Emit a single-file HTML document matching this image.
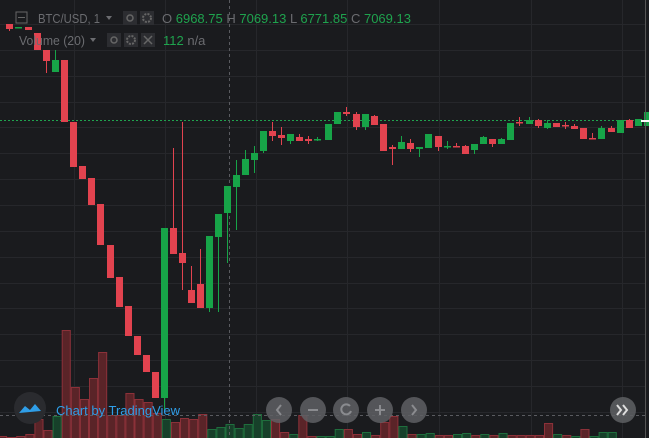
<!DOCTYPE html>
<html><head><meta charset="utf-8"><style>
html,body{margin:0;padding:0;background:#1a1b1e;overflow:hidden}
svg{display:block}
text{font-family:"Liberation Sans",sans-serif}
</style></head><body>
<svg id="s" width="649" height="438" xmlns="http://www.w3.org/2000/svg">
<rect width="649" height="438" fill="#1a1b1e"/>
<g id="grid" stroke="#26272b" stroke-width="1"></g>
<g id="vol"></g>
<line x1="0" y1="120.5" x2="645" y2="120.5" stroke="#1fa34e" stroke-dasharray="2,2"/>
<line x1="229.5" y1="0" x2="229.5" y2="438" stroke="#5a5b60" stroke-dasharray="3,3"/>
<line x1="0" y1="415.5" x2="645" y2="415.5" stroke="#5a5b60" stroke-dasharray="3,3"/>
<g id="cdl"></g>
<line x1="645.5" y1="0" x2="645.5" y2="438" stroke="#555"/>
<rect x="641" y="120" width="8" height="2" fill="#fff"/>
<!-- legend -->
<rect x="16" y="12" width="11" height="11" fill="none" stroke="#666" stroke-width="1"/>
<line x1="18" y1="17.5" x2="25" y2="17.5" stroke="#666"/>
<text x="38" y="23" font-size="13" fill="#6b6c70" textLength="62" lengthAdjust="spacingAndGlyphs">BTC/USD, 1</text>
<path d="M106 16 l6 0 l-3 4z" fill="#6b6c70"/>
<rect x="123" y="11" width="14" height="14" fill="#2c2d31"/><circle cx="130" cy="18" r="3" fill="none" stroke="#666" stroke-width="1.5"/>
<rect x="140" y="11" width="14" height="14" fill="#2c2d31"/><circle cx="147" cy="18" r="4" fill="none" stroke="#666" stroke-width="2" stroke-dasharray="2,1.2"/>
<text x="162" y="23" font-size="13" fill="#6b6c70">O <tspan fill="#1fa34e">6968.75</tspan> H <tspan fill="#1fa34e">7069.13</tspan> L <tspan fill="#1fa34e">6771.85</tspan> C <tspan fill="#1fa34e">7069.13</tspan></text>
<text x="19" y="45" font-size="13" fill="#6b6c70" textLength="66" lengthAdjust="spacingAndGlyphs">Volume (20)</text>
<path d="M90 38 l6 0 l-3 4z" fill="#6b6c70"/>
<rect x="107" y="33" width="14" height="14" fill="#2c2d31"/><circle cx="114" cy="40" r="3" fill="none" stroke="#666" stroke-width="1.5"/>
<rect x="124" y="33" width="14" height="14" fill="#2c2d31"/><circle cx="131" cy="40" r="4" fill="none" stroke="#666" stroke-width="2" stroke-dasharray="2,1.2"/>
<rect x="141" y="33" width="14" height="14" fill="#2c2d31"/><path d="M144 36 l8 8 M152 36 l-8 8" stroke="#666" stroke-width="1.5"/>
<text x="163" y="45" font-size="13" fill="#1fa34e">112 <tspan fill="#6b6c70">n/a</tspan></text>
<!-- watermark -->
<circle cx="30" cy="408" r="16" fill="#2a2b2f"/>
<path d="M19 413 l6-7 l5 4 l5-6 l6 7 z" fill="#2f9ee8"/>
<text x="56" y="415" font-size="13" fill="#2f9ee8">Chart by TradingView</text>
<g fill="#5f6064" opacity="0.85">
<circle cx="279" cy="410" r="13"/><circle cx="313" cy="410" r="13"/><circle cx="346" cy="410" r="13"/><circle cx="380" cy="410" r="13"/><circle cx="414" cy="410" r="13"/><circle cx="623" cy="410" r="13"/>
</g>
<g stroke="#8a8b8f" stroke-width="2" fill="none">
<path d="M281 405 l-4 5 l4 5"/><path d="M308 410 h10"/><path d="M350 406 a5 5 0 1 0 1 5"/><path d="M375 410 h10 M380 405 v10"/><path d="M412 405 l4 5 l-4 5"/>
<path d="M617 405 l4 5 l-4 5 M623 405 l4 5 l-4 5" stroke="#ddd"/>
</g>
</svg>
<script>
var NS="http://www.w3.org/2000/svg";
function el(p,t,a){var e=document.createElementNS(NS,t);for(var k in a)e.setAttribute(k,a[k]);p.appendChild(e);return e;}
var g=document.getElementById('grid');
[74,165,256,347,439,531,622].forEach(function(x){el(g,'line',{x1:x+.5,y1:0,x2:x+.5,y2:438});});
for(var y=24;y<438;y+=25.85){var yy=Math.round(y)+.5;el(g,'line',{x1:0,y1:yy,x2:645,y2:yy});}
var V=[[436,'r'],[437,'r'],[436,'r'],[434,'r'],[419,'r'],[430,'r'],[416,'g'],[330,'r'],[387,'r'],[399,'r'],[378,'r'],[352,'r'],[415,'r'],[415,'r'],[393,'r'],[399,'r'],[402,'r'],[413,'r'],[419,'g'],[422,'r'],[418,'r'],[419,'r'],[414,'r'],[429,'g'],[427,'g'],[424,'g'],[428,'g'],[424,'g'],[414,'g'],[420,'g'],[419,'r'],[432,'r'],[434,'g'],[415,'r'],[436,'r'],[436,'g'],[436,'g'],[429,'g'],[429,'r'],[434,'r'],[432,'g'],[435,'r'],[422,'r'],[416,'r'],[426,'g'],[434,'r'],[434,'g'],[433,'g'],[435,'r'],[435,'r'],[434,'g'],[433,'g'],[435,'r'],[434,'g'],[435,'r'],[433,'g'],[435,'r'],[435,'r'],[435,'r'],[435,'r'],[423,'r'],[434,'g'],[435,'r'],[436,'g'],[429,'r'],[436,'g'],[432,'g'],[432,'g']];
var vg=document.getElementById('vol');
V.forEach(function(v,i){var x=-2+i*9.1;el(vg,'rect',{x:x+.5,y:v[0]+.5,width:8.1,height:440-v[0],fill:v[1]=='r'?'#5a2428':'#17402a',stroke:v[1]=='r'?'#8c3139':'#1f6e3d','stroke-width':1});});
var C=[[6,24,29,24,31,'r'],[15,27,28,27,28,'g'],[25,27,30,27,30,'r'],[34,33,50,33,50,'r'],[43,50,61,50,73,'r'],[52,60,72,50,72,'g'],[61,60,122,60,122,'r'],
[70,122,167,122,167,'r'],[79,166,179,166,179,'r'],[88,178,205,178,205,'r'],[97,204,245,204,245,'r'],[107,245,278,245,278,'r'],[116,277,307,277,307,'r'],[125,306,336,306,336,'r'],[134,336,355,336,355,'r'],[143,355,372,355,372,'r'],[152,372,398,372,398,'r'],
[161,228,398,228,410,'g'],[170,228,254,148,254,'r'],[179,253,263,122,290,'r'],[188,290,303,266,303,'r'],[197,284,308,249,308,'r'],[206,236,308,236,312,'g'],[215,214,237,214,312,'g'],[224,186,213,186,263,'g'],[233,175,187,160,230,'g'],[242,159,175,150,175,'g'],[251,153,160,146,173,'g'],[260,131,151,131,153,'g'],[269,131,136,122,141,'r'],[278,135,138,127,145,'r'],[287,134,141,134,144,'g'],[296,137,141,134,141,'r'],[305,139,141,136,144,'r'],[314,139,140,137,141,'g'],
[325,124,140,124,140,'g'],[334,112,124,112,124,'g'],[343,112,114,107,116,'r'],[353,114,127,112,130,'r'],[362,114,127,114,130,'g'],[371,116,125,115,125,'r'],[380,124,151,124,151,'r'],[389,147,149,145,165,'r'],[398,142,149,136,149,'g'],[407,143,149,139,152,'r'],[416,147,149,147,157,'g'],[425,134,148,134,148,'g'],[435,136,147,136,151,'r'],[444,146,147,141,149,'g'],[453,146,147,143,147,'r'],[462,146,154,145,154,'r'],[471,144,150,144,154,'g'],[480,137,144,136,144,'g'],[489,139,144,139,147,'r'],[498,139,144,138,144,'g'],[507,123,140,123,140,'g'],[516,122,123,117,126,'r'],[526,120,124,117,124,'g'],[535,120,126,119,128,'r'],[544,123,128,120,129,'g'],[553,123,127,123,127,'r'],[562,125,126,122,129,'r'],[571,126,129,124,129,'r'],[580,128,139,128,139,'r'],[589,138,139,133,139,'r'],[598,128,139,126,139,'g'],[608,128,132,126,132,'r'],[617,120,133,120,133,'g'],[626,120,128,119,128,'r'],[635,119,126,119,126,'g'],[644,112,126,112,126,'g']];
var cg=document.getElementById('cdl');
C.forEach(function(c){var col=c[5]=='r'?'#e2434f':'#17a448';
el(cg,'rect',{x:c[0]+3,y:c[3],width:1,height:Math.max(1,c[4]-c[3]),fill:col});
el(cg,'rect',{x:c[0],y:c[1],width:7,height:Math.max(1.5,c[2]-c[1]),fill:col});});
</script>
</body></html>
